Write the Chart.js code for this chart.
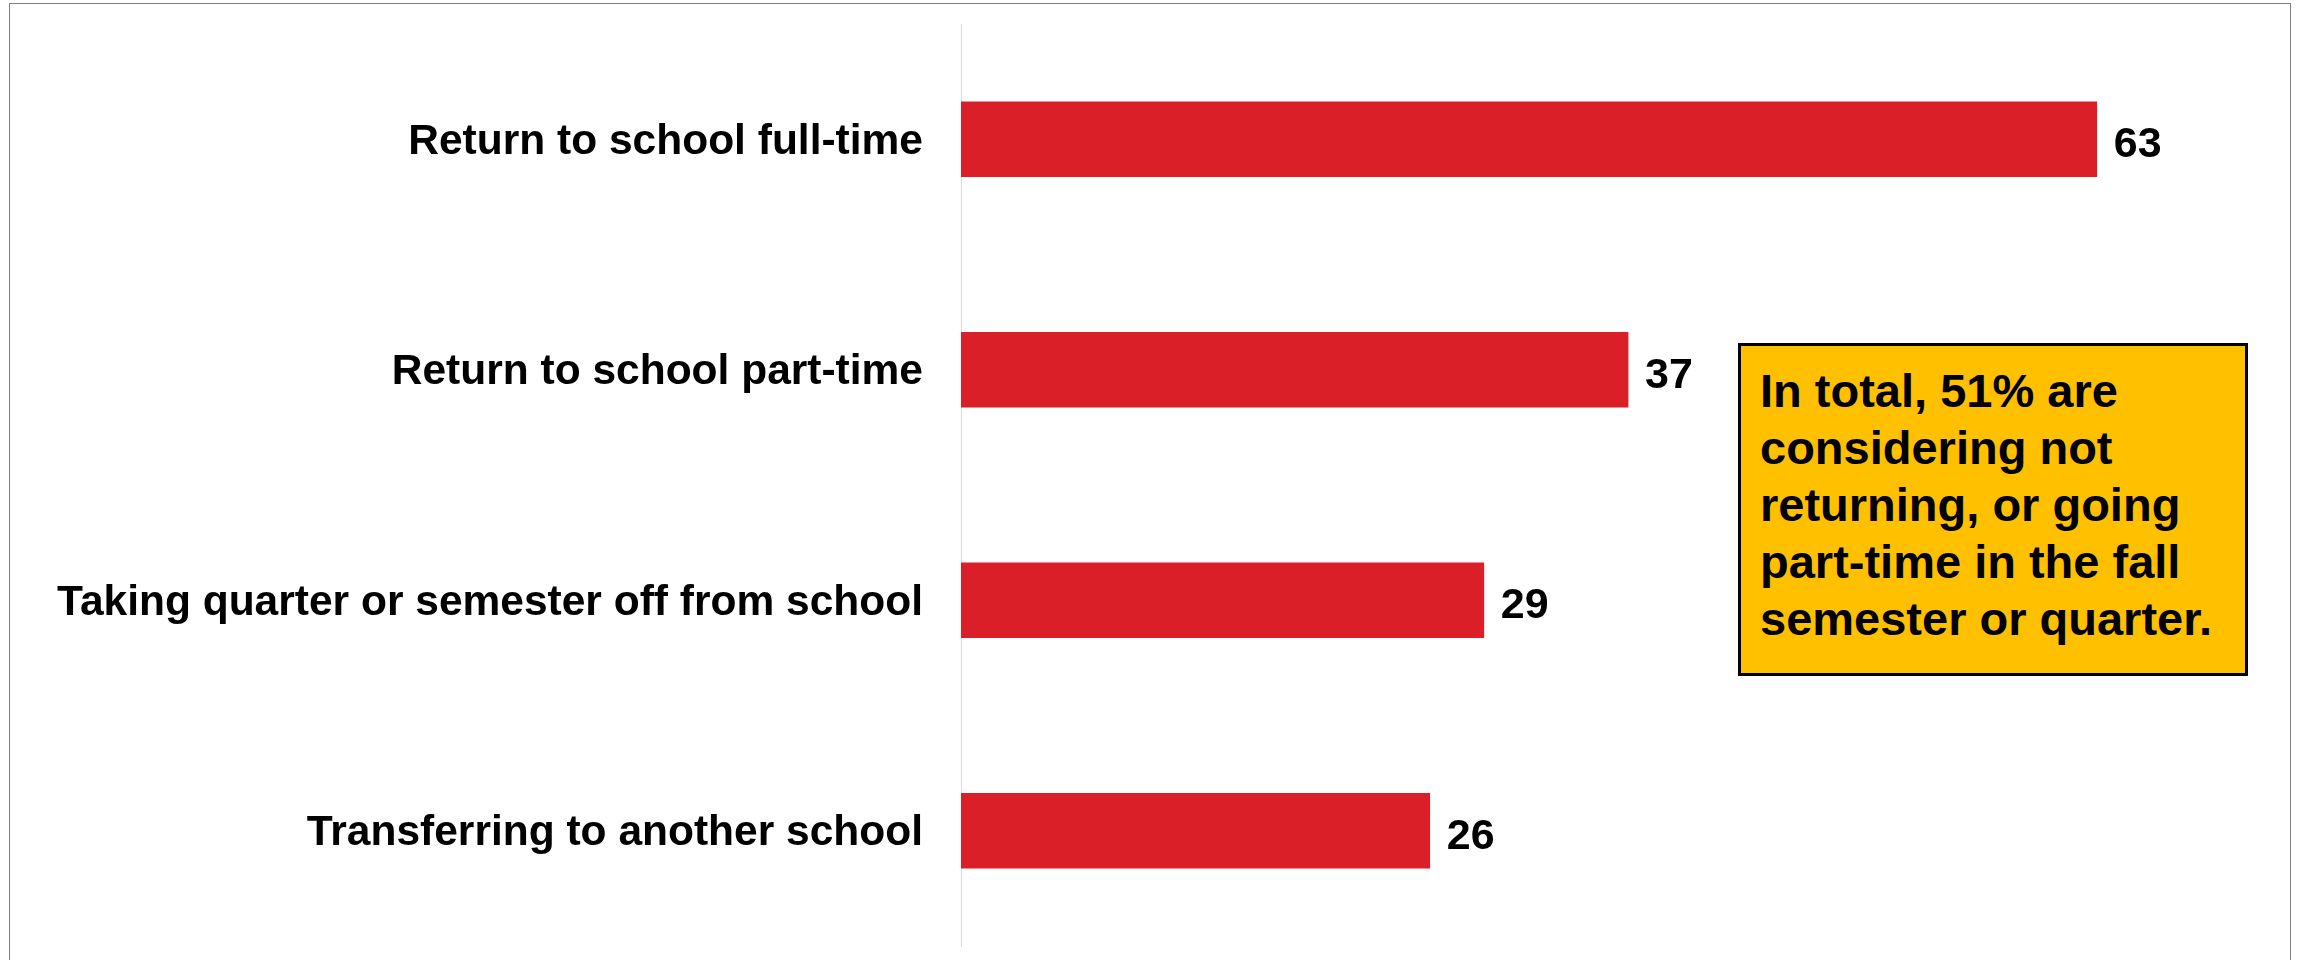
<!DOCTYPE html>
<html>
<head>
<meta charset="utf-8">
<script src="https://cdn.jsdelivr.net/npm/chart.js@4/dist/chart.umd.min.js"></script>
<style>
  html,body{margin:0;padding:0;background:#fff;}
  #wrap{position:relative;width:2303px;height:960px;}
  #frame{position:absolute;left:9px;top:3px;width:2282px;height:980px;border:1px solid #808080;box-sizing:border-box;}
  #note{position:absolute;left:1738px;top:343px;width:510px;height:333px;box-sizing:border-box;
    background:#FFC000;border:3px solid #000;padding:16px 0 0 19px;
    font-family:"Liberation Sans",Arial,sans-serif;font-weight:bold;font-size:47px;line-height:57px;color:#000;}
  canvas{position:absolute;left:0;top:0;}
</style>
</head>
<body>
<div id="wrap">
  <div id="frame"></div>
  <canvas id="myChart" width="2303" height="960"></canvas>
  <div id="note">In total, 51% are<br>considering not<br>returning, or going<br>part-time in the fall<br>semester or quarter.</div>
</div>
<script>
const options=["Return to school full-time","Return to school part-time","Taking quarter or semester off from school","Transferring to another school"];
const shares=[63,37,29,26];
const axisMax=70;

const fontFam='"Liberation Sans", Arial, sans-serif';

// numbers at the end of each bar
const valueLabels={
  id:"valueLabels",
  afterDatasetsDraw(chart){
    const ctx=chart.ctx;
    const meta=chart.getDatasetMeta(0);
    ctx.save();
    ctx.font="bold 43px "+fontFam;
    ctx.fillStyle="#000";
    ctx.textAlign="left";
    ctx.textBaseline="alphabetic";
    meta.data.forEach((bar,i)=>{
      ctx.fillText(String(shares[i]),bar.x+17,bar.y+18);
    });
    ctx.restore();
  }
};

let myChart=new Chart("myChart",{
  type:"bar",
  data:{
    labels:options,
    datasets:[{
      data:shares,
      backgroundColor:"#DA1F29",
      barThickness:75
    }]
  },
  options:{
    indexAxis:"y",
    responsive:false,
    animation:false,
    layout:{padding:{left:0,right:80,top:24,bottom:14}},
    plugins:{legend:{display:false},tooltip:{enabled:false}},
    scales:{
      x:{display:false,min:0,max:axisMax},
      y:{
        afterFit(scale){
          scale.width=961;
          scale.paddingTop=0;
          scale.paddingBottom=0;
        },
        grid:{display:false,drawTicks:false},
        border:{display:true,color:"#d9d9d9",width:1},
        ticks:{
          padding:38,
          labelOffset:3,
          color:"#000",
          font:{family:fontFam,size:42.5,weight:"bold"}
        }
      }
    }
  },
  plugins:[valueLabels]
});
</script>
</body>
</html>
